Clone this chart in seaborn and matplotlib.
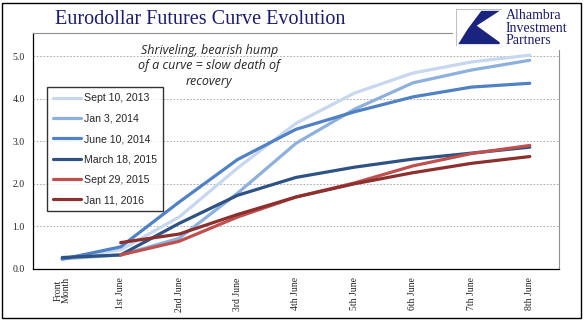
import numpy as np
import pandas as pd
import matplotlib
matplotlib.use("Agg")
import matplotlib.pyplot as plt
import seaborn as sns
from matplotlib.patches import Rectangle, Polygon

categories = ["Front\nMonth", "1st June", "2nd June", "3rd June", "4th June",
              "5th June", "6th June", "7th June", "8th June"]
series_names = ["Sept 10, 2013", "Jan 3, 2014", "June 10, 2014",
                "March 18, 2015", "Sept 29, 2015", "Jan 11, 2016"]
sept_2013 = [0.25, 0.45, 1.22, 2.37, 3.42, 4.13, 4.60, 4.86, 5.02]
jan_2014 = [0.24, 0.33, 0.72, 1.78, 2.95, 3.75, 4.37, 4.67, 4.90]
june_2014 = [0.23, 0.52, 1.57, 2.57, 3.28, 3.69, 4.04, 4.27, 4.36]
march_2015 = [0.27, 0.33, 1.07, 1.73, 2.15, 2.39, 2.58, 2.72, 2.86]
sept_2015 = [np.nan, 0.33, 0.65, 1.22, 1.69, 2.02, 2.42, 2.71, 2.90]
jan_2016 = [np.nan, 0.62, 0.82, 1.28, 1.69, 2.00, 2.26, 2.48, 2.64]
colors = ["#c6d7ee", "#8eb0dc", "#4f81c4", "#2e5283", "#c0504d", "#8c2f2f"]
y_ticks = [0.0, 1.0, 2.0, 3.0, 4.0, 5.0]

all_vals = [sept_2013, jan_2014, june_2014, march_2015, sept_2015, jan_2016]
rows = []
for name, vals in zip(series_names, all_vals):
    for i, v in enumerate(vals):
        rows.append({"pos": i, "value": v, "series": name})
df = pd.DataFrame(rows).dropna()

sns.set_style("white")
plt.rcParams["font.family"] = ["DejaVu Sans"]

fig = plt.figure(figsize=(5.88, 3.21), dpi=100)
ax = fig.add_axes([33/588, 1-269/321, (559-33)/588, (269-33)/321])

sns.lineplot(data=df, x="pos", y="value", hue="series", hue_order=series_names,
             palette=colors, linewidth=2.3, ax=ax, legend=True)

ax.set_xlim(-0.5, 8.5)
ax.set_ylim(0, 5.54)
ax.set_yticks(y_ticks)
ax.set_yticklabels([f"{v:.1f}" for v in y_ticks], family="Liberation Serif", fontsize=7)
ax.set_xticks(range(len(categories)))
ax.set_xticklabels(categories, rotation=90, family="Liberation Serif", fontsize=7,
                   linespacing=0.9)
ax.set_xticks(np.arange(-0.5, 9.0, 1.0), minor=True)
ax.tick_params(axis="x", which="major", length=0, pad=6)
ax.tick_params(axis="x", which="minor", length=4, width=0.8, color="black", direction="out")
ax.tick_params(axis="y", which="major", length=4, width=0.8, color="black", direction="out", pad=2)
ax.set_xlabel("")
ax.set_ylabel("")
for yv in y_ticks[1:]:
    ax.axhline(yv, color="#a0a0a0", linewidth=0.6, linestyle=(0, (2, 2)), zorder=0)
ax.spines["left"].set_color("black")
ax.spines["bottom"].set_color("black")
ax.spines["left"].set_linewidth(0.9)
ax.spines["bottom"].set_linewidth(0.9)
ax.spines["top"].set_color("#909090")
ax.spines["right"].set_color("#909090")
ax.spines["top"].set_linewidth(0.8)
ax.spines["right"].set_linewidth(0.8)

leg = ax.legend(loc="upper left", bbox_to_anchor=(14/526, (269-87)/236), frameon=True,
                fancybox=False, edgecolor="black", borderaxespad=0,
                prop={"family": "Liberation Sans", "size": 7.6},
                handlelength=2.6, handletextpad=0.3, labelspacing=0.98, borderpad=0.6)
leg.get_frame().set_linewidth(1.0)
for line in leg.get_lines():
    line.set_linewidth(2.3)

ax.text(0.335, 0.955, "Shriveling, bearish hump\nof a curve = slow death of\nrecovery",
        transform=ax.transAxes, ha="center", va="top", style="italic",
        fontsize=9, family="Open Sans", linespacing=1.25)

fig.text(200/588, 1-19/321, "Eurodollar Futures Curve Evolution", ha="center",
         va="center", family="Liberation Serif", fontsize=14.5, color="#1b1b6f")

# white logo background covering the plot-area corner
fig.patches.append(Rectangle((453/588, 1-50/321), 127/588, 46/321, transform=fig.transFigure,
                             facecolor="white", edgecolor="none", zorder=5))
# logo
logo_ax = fig.add_axes([456/588, 1-46/321, 46/588, 37/321])
logo_ax.set_zorder(6)
logo_ax.set_xlim(0, 1)
logo_ax.set_ylim(0, 1)
logo_ax.add_patch(Rectangle((0, 0), 1, 1, facecolor="white", edgecolor="#c0c0c0", linewidth=0.8))
logo_ax.add_patch(Polygon([[0.05, 0.05], [0.25, 0.45], [0.55, 0.95], [0.95, 0.95],
                           [0.45, 0.55], [0.95, 0.1], [0.95, 0.05]],
                          closed=True, facecolor="#1a237e", edgecolor="none"))
logo_ax.axis("off")
t = fig.text(506/588, 1-28/321, "Alhambra\nInvestment\nPartners", ha="left", va="center",
             family="Liberation Serif", fontsize=10, color="#1b1b6f", linespacing=0.95)
t.set_zorder(7)

fig.patches.append(Rectangle((2/588, 3/321), 579/588, 315/321, transform=fig.transFigure,
                             fill=False, edgecolor="black", linewidth=1.0, zorder=8))

fig.savefig("out.png", dpi=100)
